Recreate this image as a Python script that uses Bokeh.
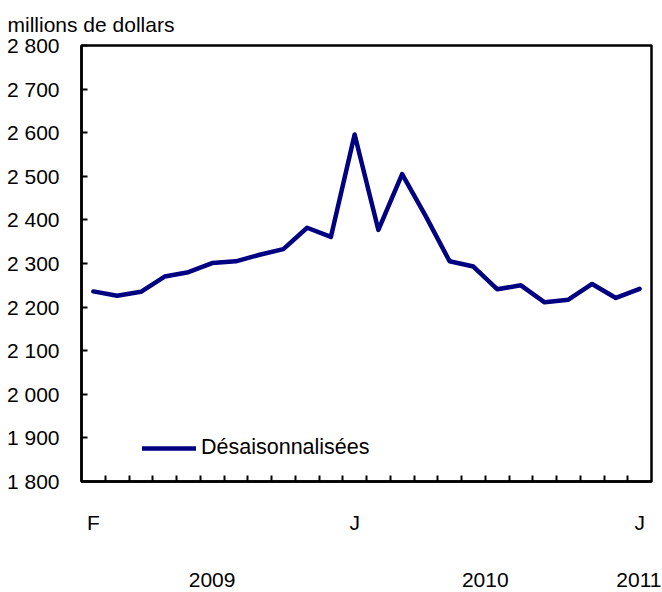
from bokeh.plotting import figure
from bokeh.models import (FixedTicker, LinearAxis, Range1d, Legend, LegendItem,
                          ColumnDataSource)
from bokeh.embed import file_html
from bokeh.resources import INLINE

# ---- data -------------------------------------------------------------
months = ["2009-02", "2009-03", "2009-04", "2009-05", "2009-06", "2009-07",
          "2009-08", "2009-09", "2009-10", "2009-11", "2009-12", "2010-01",
          "2010-02", "2010-03", "2010-04", "2010-05", "2010-06", "2010-07",
          "2010-08", "2010-09", "2010-10", "2010-11", "2010-12", "2011-01"]
values = [2236, 2226, 2235, 2270, 2280, 2301, 2305, 2320, 2333, 2382, 2361, 2596,
          2377, 2505, 2408, 2305, 2293, 2241, 2250, 2211, 2217, 2253, 2221, 2242]
series_name = "Désaisonnalisées"
y_ticks = [1800, 1900, 2000, 2100, 2200, 2300, 2400, 2500, 2600, 2700, 2800]
y_tick_labels = ["1 800", "1 900", "2 000", "2 100", "2 200", "2 300",
                 "2 400", "2 500", "2 600", "2 700", "2 800"]
month_letters = {"01": "J", "02": "F"}
y_title = "millions de dollars"

FONT = "Liberation Sans"
FS = "21px"
NAVY = "#000080"

x = list(range(len(values)))
src = ColumnDataSource(dict(x=x, y=values))

p = figure(width=661, height=588, output_backend="svg", toolbar_location=None,
           x_range=Range1d(-0.5, len(values) - 0.5),
           y_range=Range1d(y_ticks[0], y_ticks[-1]),
           min_border_left=81, min_border_right=10, min_border_top=45,
           min_border_bottom=107)
p.frame_width = 570
p.frame_height = 436
p.xgrid.visible = False
p.ygrid.visible = False
p.background_fill_color = "white"
p.border_fill_color = "white"
p.outline_line_color = "black"
p.outline_line_width = 2.5

r = p.line("x", "y", source=src, line_color=NAVY, line_width=4.5,
           line_join="round", line_cap="round")

# title (unit)
p.title.text = y_title
p.title.align = "left"
p.title.offset = -74
p.title.text_font = FONT
p.title.text_font_size = FS
p.title.text_font_style = "normal"
p.title.text_color = "black"
p.title.standoff = 20

# y axis
ya = p.yaxis[0]
ya.ticker = FixedTicker(ticks=y_ticks)
ya.major_label_overrides = {t: l for t, l in zip(y_ticks, y_tick_labels)}
ya.major_tick_in = 6
ya.major_tick_out = 0
ya.major_tick_line_width = 2
ya.minor_tick_line_color = None
ya.axis_line_width = 2.5
ya.major_label_text_font = FONT
ya.major_label_text_font_size = FS
ya.major_label_text_color = "black"
ya.major_label_standoff = 22

# x axis: month letters at first month and each January, ticks between months
label_idx = [i for i, m in enumerate(months)
             if i == 0 or m.endswith("-01")]
xa = p.xaxis[0]
xa.ticker = FixedTicker(ticks=label_idx,
                        minor_ticks=[i + 0.5 for i in range(len(months) - 1)])
xa.major_label_overrides = {i: month_letters[months[i][5:]] for i in label_idx}
xa.major_tick_in = 0
xa.major_tick_out = 0
xa.minor_tick_in = 6
xa.minor_tick_out = 0
xa.minor_tick_line_width = 2
xa.axis_line_width = 2.5
xa.major_label_text_font = FONT
xa.major_label_text_font_size = FS
xa.major_label_text_color = "black"
xa.major_label_standoff = 29

# year axis
years = sorted(set(m[:4] for m in months))
year_pos = []
for yv in years:
    idx = [i for i, m in enumerate(months) if m.startswith(yv)]
    year_pos.append(sum(idx) / len(idx))
ya2 = LinearAxis(ticker=FixedTicker(ticks=year_pos),
                 major_label_overrides={pos: yv for pos, yv in zip(year_pos, years)})
ya2.axis_line_color = None
ya2.major_tick_line_color = None
ya2.minor_tick_line_color = None
ya2.major_label_text_font = FONT
ya2.major_label_text_font_size = FS
ya2.major_label_text_color = "black"
ya2.major_label_standoff = 30
p.add_layout(ya2, "below")

legend = Legend(items=[LegendItem(label=series_name, renderers=[r])],
                location=(61, 21), glyph_width=54, glyph_height=20,
                label_height=20, label_standoff=5, padding=0, margin=0,
                border_line_color=None, background_fill_alpha=0,
                label_text_font=FONT, label_text_font_size="21.5px",
                label_text_color="black")
p.add_layout(legend, "center")

open("out.html", "w").write(file_html(p, INLINE))
